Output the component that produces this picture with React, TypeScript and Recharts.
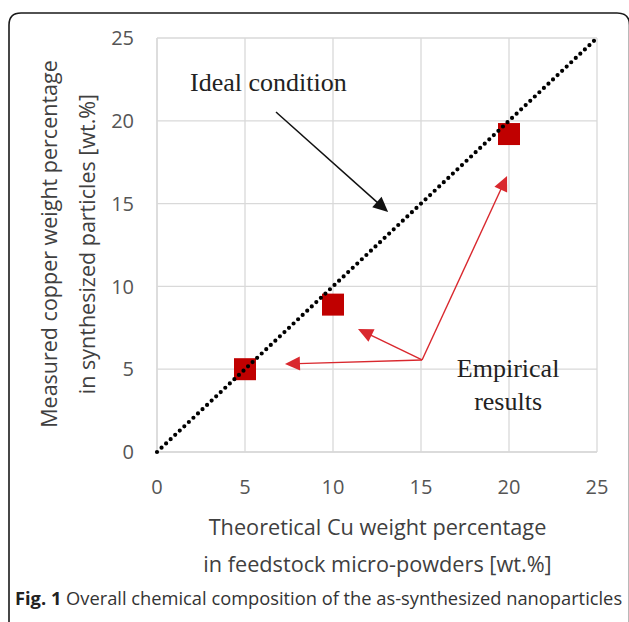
import React from 'react';
import { ScatterChart, Scatter, XAxis, YAxis, CartesianGrid, ReferenceLine, ReferenceDot } from 'recharts';

// ---- data ----
const xTicks = [0, 5, 10, 15, 20, 25];
const yTicks = [0, 5, 10, 15, 20, 25];
const theoretical = [5, 10, 20];
const measured = [5.0, 8.9, 19.2];
const idealX = [0, 25];
const idealY = [0, 25];
const idealArrowFrom = { x: 6.76, y: 20.53 };
const idealArrowTo = { x: 13.13, y: 14.49 };
const empiricalFrom = { x: 15.06, y: 5.56 };
const empiricalTargets = [
  { x: 7.27, y: 5.31 },
  { x: 11.42, y: 7.43 },
  { x: 19.89, y: 16.67 },
];
const idealLabel = { x: 1.875, y: 21.8, text: 'Ideal condition' };
const empiricalLabel = [
  { x: 19.95, y: 4.55, text: 'Empirical' },
  { x: 19.95, y: 2.55, text: 'results' },
];
const xTitle = ['Theoretical Cu weight percentage', 'in feedstock micro-powders [wt.%]'];
const yTitle = ['Measured copper weight percentage', 'in synthesized particles [wt.%]'];
const captionBold = 'Fig. 1';
const captionText = ' Overall chemical composition of the as-synthesized nanoparticles';

const points = theoretical.map((x, i) => ({ x, y: measured[i] }));
const idealPoints = idealX.map((x, i) => ({ x, y: idealY[i] }));

const W = 629;
const H = 622;
const SANS = "'Open Sans', 'Noto Sans', sans-serif";
const SERIF = "'Liberation Serif', 'DejaVu Serif', serif";

const arrowShape = (color: string, width: number) => (p: any) => {
  const { x1, y1, x2, y2 } = p;
  const dx = x2 - x1;
  const dy = y2 - y1;
  const L = Math.hypot(dx, dy) || 1;
  const ux = dx / L;
  const uy = dy / L;
  const hl = 15;
  const hw = 7;
  const bx = x2 - ux * hl;
  const by = y2 - uy * hl;
  return (
    <g>
      <line x1={x1} y1={y1} x2={bx + ux * 2} y2={by + uy * 2} stroke={color} strokeWidth={width} />
      <polygon
        points={`${x2},${y2} ${bx - uy * hw},${by + ux * hw} ${bx + uy * hw},${by - ux * hw}`}
        fill={color}
      />
    </g>
  );
};

const textShape = (text: string, anchor: string) => (p: any) => (
  <text
    x={p.cx}
    y={p.cy}
    textAnchor={anchor as any}
    fontFamily={SERIF}
    fontSize={26}
    fill="#222"
  >
    {text}
  </text>
);

const squareShape = (p: any) => (
  <rect x={p.cx - 11} y={p.cy - 11} width={22} height={22} fill="#C00000" />
);

const noShape = () => <g />;

export default function App() {
  return (
    <div style={{ position: 'absolute', left: 0, top: 0, width: W, height: H, background: '#fff' }}>
      <ScatterChart width={W} height={H} margin={{ top: 38, right: 32, bottom: 130, left: 97 }}>
        <CartesianGrid stroke="#d9d9d9" strokeWidth={1.3} />
        <XAxis
          type="number"
          dataKey="x"
          domain={[0, 25]}
          ticks={xTicks}
          interval={0}
          height={40}
          axisLine={{ stroke: '#d9d9d9', strokeWidth: 1.3 }}
          tickLine={false}
          tickMargin={22}
          tick={{ fill: '#555', fontSize: 20, fontFamily: SANS }}
        />
        <YAxis
          type="number"
          dataKey="y"
          domain={[0, 25]}
          ticks={yTicks}
          interval={0}
          width={60}
          axisLine={{ stroke: '#d9d9d9', strokeWidth: 1.3 }}
          tickLine={false}
          tickMargin={17}
          tick={{ fill: '#555', fontSize: 20, fontFamily: SANS }}
        />
        <Scatter data={points} shape={squareShape} isAnimationActive={false} />
        <Scatter
          data={idealPoints}
          shape={noShape}
          line={{ stroke: '#000', strokeWidth: 4.2, strokeDasharray: '0 6.25', strokeLinecap: 'round' }}
          isAnimationActive={false}
        />
        <ReferenceLine
          segment={[idealArrowFrom, idealArrowTo]}
          shape={arrowShape('#111', 1.5)}
          ifOverflow="visible"
        />
        {empiricalTargets.map((t, i) => (
          <ReferenceLine
            key={i}
            segment={[empiricalFrom, t]}
            shape={arrowShape('#D9282E', 1.4)}
            ifOverflow="visible"
          />
        ))}
        <ReferenceDot
          x={idealLabel.x}
          y={idealLabel.y}
          r={0}
          ifOverflow="visible"
          shape={textShape(idealLabel.text, 'start')}
        />
        {empiricalLabel.map((l, i) => (
          <ReferenceDot
            key={'e' + i}
            x={l.x}
            y={l.y}
            r={0}
            ifOverflow="visible"
            shape={textShape(l.text, 'middle')}
          />
        ))}
      </ScatterChart>
      <svg
        width={W}
        height={H}
        style={{ position: 'absolute', left: 0, top: 0, pointerEvents: 'none' }}
      >
        <path
          d="M 9 622 L 9 25 Q 9 13 21 13 L 617 13 Q 629.5 13 629.5 25 L 629.5 622"
          fill="none"
          stroke="#1a1a1a"
          strokeWidth={1.6}
        />
        <text x={377.5} y={535} textAnchor="middle" fontFamily={SANS} fontSize={21.7} fill="#404040">
          {xTitle[0]}
        </text>
        <text x={377.5} y={572} textAnchor="middle" fontFamily={SANS} fontSize={21.7} fill="#404040">
          {xTitle[1]}
        </text>
        <text
          x={48}
          y={244}
          transform="rotate(-90 48 244)"
          textAnchor="middle"
          dominantBaseline="central"
          fontFamily={SANS}
          fontSize={21.5}
          fill="#404040"
        >
          {yTitle[0]}
        </text>
        <text
          x={86}
          y={244}
          transform="rotate(-90 86 244)"
          textAnchor="middle"
          dominantBaseline="central"
          fontFamily={SANS}
          fontSize={21.5}
          fill="#404040"
        >
          {yTitle[1]}
        </text>
        <text x={15} y={605} fontFamily={SANS} fontSize={18.3} fill="#333">
          <tspan fontWeight="bold" fill="#222">{captionBold}</tspan>
          <tspan>{captionText}</tspan>
        </text>
      </svg>
    </div>
  );
}
